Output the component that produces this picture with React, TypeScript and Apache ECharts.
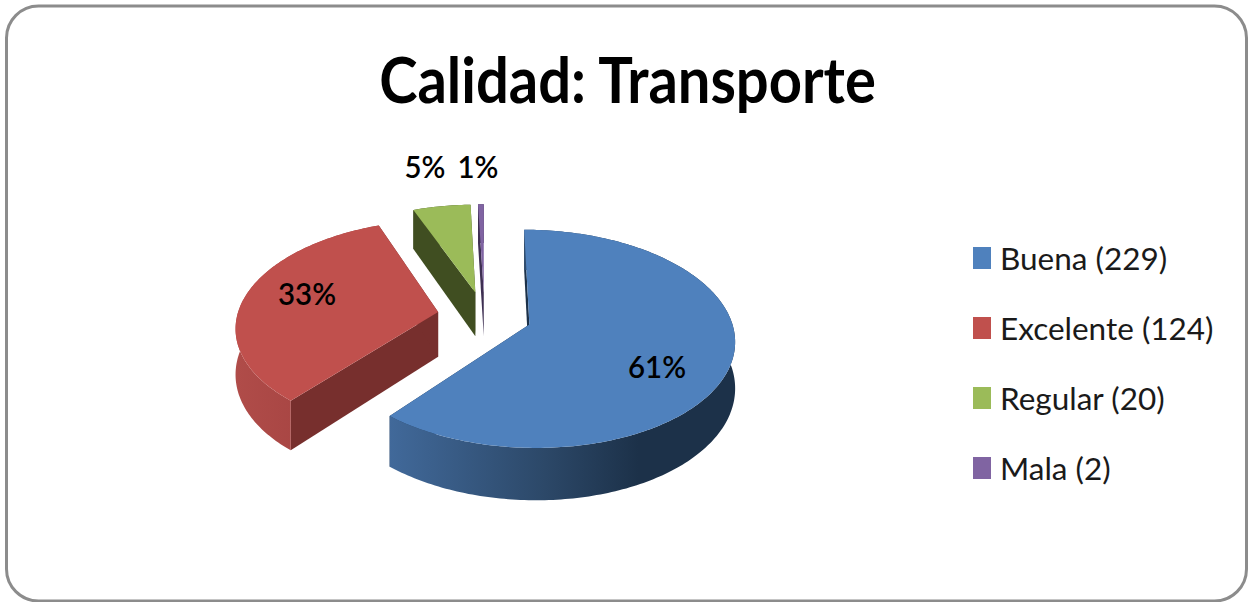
import React, { useEffect, useRef } from "react";
import * as echarts from "echarts";

const titleText = "Calidad: Transporte";
const categories = ["Buena", "Excelente", "Regular", "Mala"];
const values = [229, 124, 20, 2];

const FONT = "Lato, 'Noto Sans', sans-serif";
const topColors = ["#4F81BD", "#C0504D", "#9BBB59", "#8064A2"];
const faceColors = ["#1C3149", "#772F2D", "#404E21", "#3E2F52"];
const wallStops: [number, string][][] = [
  [[0, "#41699A"], [0.45, "#2C4868"], [0.72, "#1C3149"], [1, "#1C3149"]],
  [[0, "#B04C49"], [0.5, "#A74543"], [1, "#9A3E3B"]],
  [[0, "#404E21"], [1, "#404E21"]],
  [[0, "#3E2F52"], [1, "#3E2F52"]],
];
const labelPositions = [[657, 366], [307, 293], [425, 166], [478, 166]];

// projection of the tilted pie plane
const CX = 484.5, CY = 316, SX = 201, SY = 105, PERSP = 0.13, DEPTH = 45, EXPLODE = 0.235;
const total = values.reduce((a, b) => a + b, 0);
const DEG = Math.PI / 180;

function project(X: number, Y: number, z: number) {
  const w = 1 + PERSP * Y;
  return [CX + (SX * X) / w, CY - (SY * Y) / w + (DEPTH * z) / w];
}

function makeRenderItem(index: number) {
  return (_params: any, api: any) => {
    const v = api.value(0);
    const before = values.slice(0, index).reduce((a, b) => a + b, 0);
    const a0 = (before / total) * 360 * DEG;
    const a1 = a0 + (v / total) * 360 * DEG;
    const mid = (a0 + a1) / 2;
    const ax = EXPLODE * Math.sin(mid);
    const ay = EXPLODE * Math.cos(mid);
    const rim = (t: number, z: number) => project(ax + Math.sin(t), ay + Math.cos(t), z);
    const steps = Math.max(4, Math.ceil((a1 - a0) / (1 * DEG)));
    const arcTop: number[][] = [];
    const arcBottom: number[][] = [];
    for (let i = 0; i <= steps; i++) {
      const t = a0 + ((a1 - a0) * i) / steps;
      arcTop.push(rim(t, 0));
      arcBottom.push(rim(t, 1));
    }
    const apexTop = project(ax, ay, 0);
    const apexBottom = project(ax, ay, 1);
    const silent = { silent: true };
    return {
      type: "group",
      children: [
        {
          type: "polygon", ...silent,
          shape: { points: [apexTop, arcTop[0], arcBottom[0], apexBottom] },
          style: { fill: faceColors[index] },
        },
        {
          type: "polygon", ...silent,
          shape: { points: [apexTop, arcTop[steps], arcBottom[steps], apexBottom] },
          style: { fill: faceColors[index] },
        },
        {
          type: "polygon", ...silent,
          shape: { points: [...arcTop, ...arcBottom.slice().reverse()] },
          style: {
            fill: new echarts.graphic.LinearGradient(
              0, 0, 1, 0,
              wallStops[index].map(([offset, color]) => ({ offset, color }))
            ),
          },
        },
        {
          type: "polygon", ...silent,
          shape: { points: [apexTop, ...arcTop] },
          style: { fill: topColors[index] },
        },
        {
          type: "text", ...silent,
          x: labelPositions[index][0],
          y: labelPositions[index][1],
          scaleX: 0.95,
          style: {
            text: `${Math.round((v / total) * 100)}%`,
            fill: "#000",
            font: `600 31px ${FONT}`,
            align: "center",
            verticalAlign: "middle",
          },
        },
      ],
    };
  };
}

export default function App() {
  const ref = useRef<HTMLDivElement>(null);
  useEffect(() => {
    const chart = echarts.init(ref.current!, undefined, { renderer: "svg" });
    chart.setOption({
      animation: false,
      backgroundColor: "#fff",
      legend: {
        orient: "vertical",
        left: 973,
        top: 242,
        padding: 0,
        itemWidth: 18,
        itemHeight: 22,
        itemGap: 38,
        icon: "rect",
        selectedMode: false,
        data: categories.map((c, i) => `${c} (${values[i]})`),
        textStyle: { fontFamily: FONT, fontSize: 31.5, color: "#1a1a1a", padding: [0, 0, 0, 4] },
      },
      graphic: [
        {
          type: "rect",
          silent: true,
          z: -1,
          shape: { x: 6.5, y: 6, width: 1240, height: 595, r: 32 },
          style: { fill: "#fff", stroke: "#8C8C8C", lineWidth: 3 },
        },
        {
          type: "text",
          silent: true,
          x: 627.5,
          y: 78,
          scaleX: 0.905,
          style: {
            text: titleText,
            fill: "#000",
            font: `bold 64px ${FONT}`,
            align: "center",
            verticalAlign: "middle",
          },
        },
      ],
      series: categories.map((c, i) => ({
        type: "custom",
        name: `${c} (${values[i]})`,
        coordinateSystem: "none",
        itemStyle: { color: topColors[i] },
        renderItem: makeRenderItem(i),
        data: [[values[i]]],
        silent: true,
      })),
    });
    return () => chart.dispose();
  }, []);
  return (
    <div
      ref={ref}
      style={{ position: "absolute", left: 0, top: 0, width: 1248, height: 602 }}
    />
  );
}
